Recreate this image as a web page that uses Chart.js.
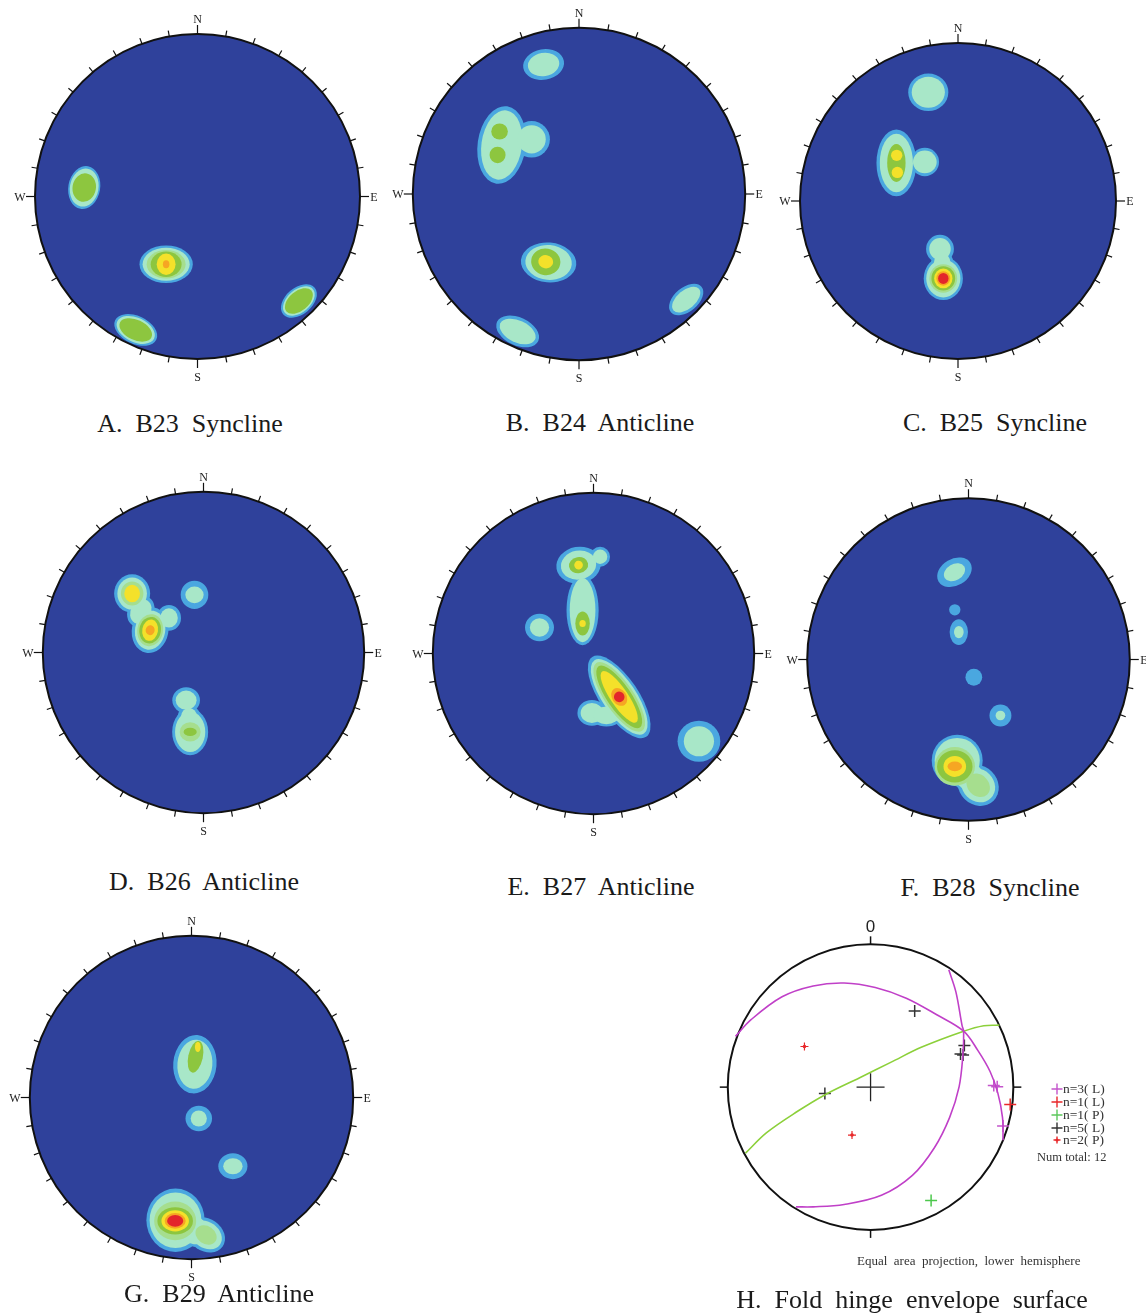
<!DOCTYPE html>
<html><head><meta charset="utf-8">
<script src="https://cdn.jsdelivr.net/npm/chart.js@4/dist/chart.umd.min.js"></script>
<style>
html,body{margin:0;padding:0;background:#fff;}
#page{position:relative;width:1146px;height:1315px;overflow:hidden;background:#fff;}
canvas{position:absolute;}
.title{position:absolute;font-family:"Liberation Serif","Times New Roman",serif;font-size:26px;color:#1a1a1a;white-space:pre;transform:translate(-50%,-50%);line-height:1;}
.small{position:absolute;font-family:"Liberation Serif","Times New Roman",serif;color:#333;white-space:pre;line-height:1;transform:translateY(-50%);}
</style></head><body><div id="page"></div>
<script>
// ---------------- DATA ----------------
// contour level colours (outer -> inner)
const LEVEL_COLORS = ['#4AA7E0','#A8E7C8','#A6DE8E','#8DC63F','#F4E12A','#F6A623','#E3262B'];
const DISK_COLOR = '#2F419B';
const COMPASS = ['N','E','S','W'];

// each blob: [x, y, rotationDeg, rings(level radii [rx, ry] in units of primitive radius, 0 = level absent)]
const blobsA = [
  [-0.697, 0.055, -10, [[.098,.133],[.088,.118],0,[.072,.088]]],
  [-0.193,-0.417, 0, [[.164,.116],[.145,.102],[.12,.088],[.095,.078],[.058,.066],[.02,.025]]],
  [-0.380,-0.821,-25, [[.14,.086],[.125,.075],0,[.107,.062]]],
  [ 0.624,-0.643, 40, [[.127,.082],[.113,.07],0,[.1,.06]]]
];
const blobsB = [
  [-0.213, 0.779, 10, [[.124,.092],[.095,.07]]],
  [-0.465, 0.295, -8, [[.145,.235],[.122,.21]]],
  [-0.285, 0.329, 0, [[.11,.11],[.085,.085]]],
  [-0.478, 0.376, 0, [0,0,0,[.05,.048]]],
  [-0.490, 0.235, 0, [0,0,0,[.048,.05]]],
  [-0.183,-0.412,-5, [[.167,.12],[.14,.105]]],
  [-0.200,-0.408,-10,[0,0,0,[.088,.08],[.045,.04]]],
  [ 0.645,-0.635, 40, [[.12,.072],[.1,.056]]],
  [-0.369,-0.827,-25, [[.137,.084],[.115,.066]]]
];
const blobsC = [
  [-0.188, 0.688, 0, [[.127,.119],[.105,.098]]],
  [-0.390, 0.241, 0, [[.126,.211],[.105,.185],0,[.058,.12]]],
  [-0.388, 0.289, 0, [0,0,0,0,[.036,.036]]],
  [-0.384, 0.181, 0, [0,0,0,0,[.036,.036]]],
  [-0.210, 0.247, 0, [[.09,.09],[.075,.072]]],
  [-0.114,-0.304, 0, [[.088,.09],[.068,.07]]],
  [-0.100,-0.390, 0, [[.07,.07],[.052,.06]]],
  [-0.093,-0.490, 0, [[.124,.137],[.108,.12],[.088,.09],[.075,.077],[.058,.063],[.044,.046],[.033,.035]]]
];
const blobsD = [
  [-0.444, 0.367, 0, [[.112,.12],[.092,.1],[.07,.075],0,[.049,.054]]],
  [-0.390, 0.255, -30, [[.08,.1],[.062,.08]]],
  [-0.332, 0.139,-10, [[.114,.143],[.094,.122],[.08,.1],[.067,.083],[.049,.067],[.028,.031]]],
  [-0.215, 0.215, 0, [[.075,.08],[.055,.06]]],
  [-0.056, 0.359, 0, [[.086,.088],[.057,.052]]],
  [-0.108,-0.297, 0, [[.086,.081],[.065,.06]]],
  [-0.090,-0.400, 0, [[.07,.07],[.05,.055]]],
  [-0.083,-0.494, 0, [[.112,.145],[.094,.125],[.065,.06],[.041,.026]]]
];
const blobsE = [
  [-0.093, 0.550, 10, [[.139,.114],[.11,.09],0,[.06,.05],[.027,.027]]],
  [ 0.041, 0.602, 0, [[.062,.062],[.045,.045]]],
  [-0.068, 0.270, 0, [[.1,.218],[.08,.2]]],
  [-0.068, 0.187, 0, [0,0,0,[.045,.075],[.02,.022]]],
  [-0.336, 0.162, 0, [[.09,.086],[.06,.058]]],
  [ 0.160,-0.270,-56, [[.3,.12],[.275,.105],[.255,.09],[.23,.075],[.19,.055],[.06,.045],[.033,.033]]],
  [-0.010,-0.370, 0, [[.09,.08],[.07,.062]]],
  [ 0.080,-0.385, 0, [[.1,.07],[.08,.055]]],
  [ 0.656,-0.546, 0, [[.133,.128],[.094,.094]]]
];
const blobsF = [
  [-0.087, 0.541, 30, [[.114,.083],[.07,.05]]],
  [-0.085, 0.308, 0, [[.035,.035]]],
  [-0.060, 0.170, 0, [[.057,.08],[.03,.038]]],
  [ 0.033,-0.110, 0, [[.052,.052]]],
  [ 0.198,-0.347, 0, [[.068,.068],[.03,.03]]],
  [-0.070,-0.626, 0, [[.158,.16],[.14,.14]]],
  [ 0.000,-0.720,-45, [[.14,.1],[.12,.085]]],
  [ 0.060,-0.780,-45, [[.135,.12],[.112,.098],[.08,.065]]],
  [-0.085,-0.663, 0, [0,0,[.125,.12],[.11,.1],[.07,.065],[.045,.03]]]
];
const blobsG = [
  [ 0.021, 0.206, -5, [[.134,.181],[.108,.152]]],
  [ 0.025, 0.252,-12, [0,0,0,[.045,.1]]],
  [ 0.039, 0.313, 0, [0,0,0,0,[.018,.032]]],
  [ 0.045,-0.130, 0, [[.082,.079],[.05,.05]]],
  [ 0.256,-0.425, 0, [[.09,.08],[.06,.05]]],
  [-0.099,-0.759, 0, [[.18,.196],[.16,.172]]],
  [ 0.000,-0.810,-35, [[.14,.1],[.12,.085]]],
  [ 0.090,-0.850,-35, [[.125,.1],[.105,.08],[.07,.055]]],
  [-0.101,-0.763, 0, [0,0,[.13,.12],[.11,.085],[.085,.065],[.065,.048],[.05,.036]]]
];

// Panel H: great circles and poles
const H_GC_MAG1 = [[-0.946,0.361],[-0.837,0.480],[-0.620,0.643],[-0.402,0.720],[-0.185,0.741],[0.033,0.709],[0.250,0.633],[0.467,0.513],[0.652,0.398],[0.750,0.263],[0.837,0.111],[0.891,-0.041],[0.924,-0.215],[0.928,-0.378]];
const H_GC_MAG2 = [[0.548,0.835],[0.598,0.676],[0.641,0.437],[0.652,0.398],[0.646,0.220],[0.620,0.002],[0.554,-0.215],[0.446,-0.433],[0.293,-0.628],[0.076,-0.770],[-0.185,-0.835],[-0.402,-0.852],[-0.522,-0.852]];
const H_GC_GREEN = [[-0.876,-0.470],[-0.728,-0.324],[-0.511,-0.172],[-0.315,-0.052],[-0.076,0.067],[0.141,0.176],[0.359,0.285],[0.652,0.398],[0.793,0.437],[0.902,0.441]];
const H_L3 = [[0.863,0.011],[0.887,0.002],[0.928,-0.276]];
const H_L1 = [[0.978,-0.124]];
const H_P1 = [[0.424,-0.807]];
const H_L5 = [[0.309,0.541],[0.657,0.296],[0.630,0.235],[0.648,0.228],[-0.320,-0.046]];
const H_P2 = [[-0.463,0.289],[-0.130,-0.341]];
const H_CENTER = [[0,0]];
const H_LEGEND = ['n=3( L)','n=1( L)','n=1( P)','n=5( L)','n=2( P)'];
const H_TOTAL = 'Num total: 12';
const H_NOTE = 'Equal  area  projection,  lower  hemisphere';
const H_NORTH = '0';

const TITLES = ['A.  B23  Syncline','B.  B24  Anticline','C.  B25  Syncline','D.  B26  Anticline','E.  B27  Anticline','F.  B28  Syncline','G.  B29  Anticline','H.  Fold  hinge  envelope  surface'];

// ---------------- LAYOUT ----------------
const page = document.getElementById('page');
const PANELS = [
  {blobs:blobsA, cx:197.5, cy:196.8, R:162.5, tx:190, ty:424},
  {blobs:blobsB, cx:578.8, cy:194.0, R:166.2, tx:600, ty:423},
  {blobs:blobsC, cx:958.0, cy:201.3, R:158.0, tx:995, ty:423},
  {blobs:blobsD, cx:203.3, cy:652.5, R:160.7, tx:204, ty:882},
  {blobs:blobsE, cx:593.3, cy:653.3, R:160.7, tx:601, ty:887},
  {blobs:blobsF, cx:968.0, cy:659.0, R:161.3, tx:990, ty:888},
  {blobs:blobsG, cx:191.0, cy:1097.3, R:161.7, tx:219, ty:1294}
];
const H_LAY = {cx:866.7, cy:1087, R:153.3, left:700, top:905, right:1146, bottom:1272, tx:912, ty:1300};

function addText(cls, txt, x, y, extra) {
  const d = document.createElement('div');
  d.className = cls; d.textContent = txt;
  d.style.left = x + 'px'; d.style.top = y + 'px';
  if (extra) Object.assign(d.style, extra);
  page.appendChild(d);
}

const stereoPlugin = {
  id: 'stereo',
  beforeDatasetsDraw(chart) {
    const {ctx, scales:{x, y}} = chart;
    const cx = x.getPixelForValue(0), cy = y.getPixelForValue(0);
    const R = x.getPixelForValue(1) - cx;
    ctx.save();
    ctx.beginPath(); ctx.arc(cx, cy, R, 0, Math.PI*2);
    ctx.fillStyle = DISK_COLOR; ctx.fill(); ctx.clip();
    const meta = chart.getDatasetMeta(0);
    const data = chart.data.datasets[0].data;
    for (let L = 0; L < LEVEL_COLORS.length; L++) {
      ctx.fillStyle = LEVEL_COLORS[L];
      data.forEach((d, i) => {
        const r = d.rings[L];
        if (!r) return;
        const el = meta.data[i];
        ctx.beginPath();
        ctx.ellipse(el.x, el.y, r[0]*R, r[1]*R, -d.rot*Math.PI/180, 0, Math.PI*2);
        ctx.fill();
      });
    }
    ctx.restore();
  },
  afterDraw(chart) {
    const {ctx, scales:{x, y}} = chart;
    const cx = x.getPixelForValue(0), cy = y.getPixelForValue(0);
    const R = x.getPixelForValue(1) - cx;
    ctx.save();
    ctx.strokeStyle = '#111'; ctx.lineWidth = 2;
    ctx.beginPath(); ctx.arc(cx, cy, R, 0, Math.PI*2); ctx.stroke();
    ctx.lineWidth = 1.2;
    for (let i = 0; i < 36; i++) {
      const a = i*Math.PI/18, len = (i % 9 === 0) ? 9 : 6;
      const s = Math.sin(a), c = Math.cos(a);
      ctx.beginPath();
      ctx.moveTo(cx + s*R, cy - c*R);
      ctx.lineTo(cx + s*(R+len), cy - c*(R+len));
      ctx.stroke();
    }
    ctx.fillStyle = '#222';
    ctx.font = '12px "Liberation Serif", serif';
    ctx.textAlign = 'center'; ctx.textBaseline = 'middle';
    const off = [15, 14, 18, 15];
    COMPASS.forEach((t, i) => {
      const a = i*Math.PI/2;
      ctx.fillText(t, cx + Math.sin(a)*(R+off[i]), cy - Math.cos(a)*(R+off[i]) + 1);
    });
    ctx.restore();
  }
};

function baseOptions(xmin, xmax, ymin, ymax) {
  return {
    responsive:false, maintainAspectRatio:false, animation:false, devicePixelRatio:1, events:[],
    layout:{padding:0},
    plugins:{legend:{display:false}, tooltip:{enabled:false}, title:{display:false}},
    scales:{
      x:{type:'linear', min:xmin, max:xmax, display:false},
      y:{type:'linear', min:ymin, max:ymax, display:false}
    }
  };
}

PANELS.forEach((p, idx) => {
  const W = Math.round(2*(p.R + 28));
  const cv = document.createElement('canvas');
  cv.width = W; cv.height = W;
  cv.style.width = W + 'px'; cv.style.height = W + 'px';
  cv.style.left = (p.cx - W/2) + 'px'; cv.style.top = (p.cy - W/2) + 'px';
  page.appendChild(cv);
  const k = (W/2)/p.R;
  new Chart(cv, {
    type:'scatter',
    data:{datasets:[{label:'contours', data:p.blobs.map(b => ({x:b[0], y:b[1], rot:b[2], rings:b[3]})), pointRadius:0, pointHoverRadius:0}]},
    options: baseOptions(-k, k, -k, k),
    plugins:[stereoPlugin]
  });
  addText('title', TITLES[idx], p.tx, p.ty);
});

// ---------------- PANEL H ----------------
const hPlugin = {
  id:'hnet',
  beforeDatasetsDraw(chart) {
    const {ctx, scales:{x, y}} = chart;
    const cx = x.getPixelForValue(0), cy = y.getPixelForValue(0);
    const R = x.getPixelForValue(1) - cx;
    ctx.save();
    ctx.strokeStyle = '#111'; ctx.lineWidth = 2;
    ctx.beginPath(); ctx.arc(cx, cy, R, 0, Math.PI*2); ctx.stroke();
    ctx.lineWidth = 1.5;
    for (let i = 0; i < 4; i++) {
      const a = i*Math.PI/2, s = Math.sin(a), c = Math.cos(a);
      ctx.beginPath();
      ctx.moveTo(cx + s*R, cy - c*R); ctx.lineTo(cx + s*(R+8), cy - c*(R+8)); ctx.stroke();
    }
    ctx.fillStyle = '#222';
    ctx.font = '17px "Liberation Sans", Arial, sans-serif';
    ctx.textAlign = 'center'; ctx.textBaseline = 'middle';
    ctx.fillText(H_NORTH, cx, cy - R - 17);
    ctx.restore();
  },
  afterDraw(chart) {
    const {ctx} = chart;
    const cols = ['#C455CC','#E8282A','#5CC85C','#333333','#E8282A'];
    const ys = [1089, 1102, 1115, 1128, 1140];
    ctx.save();
    ys.forEach((yy, i) => {
      const px = 1057 - H_LAY.left, py = yy - H_LAY.top;
      const arm = i === 4 ? 3.5 : 5.5;
      ctx.strokeStyle = cols[i]; ctx.lineWidth = 1.4;
      ctx.beginPath();
      ctx.moveTo(px - arm, py); ctx.lineTo(px + arm, py);
      ctx.moveTo(px, py - arm); ctx.lineTo(px, py + arm);
      ctx.stroke();
      if (i === 4) { ctx.fillStyle = cols[i]; ctx.beginPath(); ctx.arc(px, py, 1.6, 0, Math.PI*2); ctx.fill(); }
    });
    ctx.restore();
  }
};

(function(){
  const L = H_LAY;
  const W = L.right - L.left, Hh = L.bottom - L.top;
  const cv = document.createElement('canvas');
  cv.width = W; cv.height = Hh;
  cv.style.width = W + 'px'; cv.style.height = Hh + 'px';
  cv.style.left = L.left + 'px'; cv.style.top = L.top + 'px';
  page.appendChild(cv);
  const pts = a => a.map(p => ({x:p[0], y:p[1]}));
  const line = (lbl, arr, col) => ({label:lbl, data:pts(arr), showLine:true, borderColor:col, borderWidth:1.6, pointRadius:0, tension:0.35, fill:false});
  const mark = (lbl, arr, col, r, style, bw) => ({label:lbl, data:pts(arr), showLine:false, pointStyle:style, pointRadius:r, borderColor:col, backgroundColor:col, borderWidth:bw});
  new Chart(cv, {
    type:'scatter',
    data:{datasets:[
      line('gc1', H_GC_MAG1, '#C040C8'),
      line('gc2', H_GC_MAG2, '#C040C8'),
      line('gc3', H_GC_GREEN, '#8CD03A'),
      mark('n=3(L)', H_L3, '#C455CC', 6, 'cross', 1.5),
      mark('n=1(L)', H_L1, '#E8282A', 6, 'cross', 1.5),
      mark('n=1(P)', H_P1, '#4CC84C', 6, 'cross', 1.5),
      mark('n=5(L)', H_L5, '#333333', 6, 'cross', 1.5),
      mark('n=2(P)', H_P2, '#E8282A', 4, 'cross', 1.2),
      mark('n=2(P)dot', H_P2, '#E8282A', 1.8, 'circle', 0),
      mark('center', H_CENTER, '#222222', 14, 'cross', 1.3)
    ]},
    options: baseOptions((L.left-L.cx)/L.R, (L.right-L.cx)/L.R, (L.cy-L.bottom)/L.R, (L.cy-L.top)/L.R),
    plugins:[hPlugin]
  });
  const ys = [1089, 1102, 1115, 1128, 1140];
  H_LEGEND.forEach((t, i) => addText('small', t, 1063, ys[i], {fontSize:'13.5px'}));
  addText('small', H_TOTAL, 1037, 1157, {fontSize:'12.5px'});
  addText('small', H_NOTE, 857, 1260, {fontSize:'13px'});
  addText('title', TITLES[7], L.tx, L.ty);
})();
</script></body></html>
